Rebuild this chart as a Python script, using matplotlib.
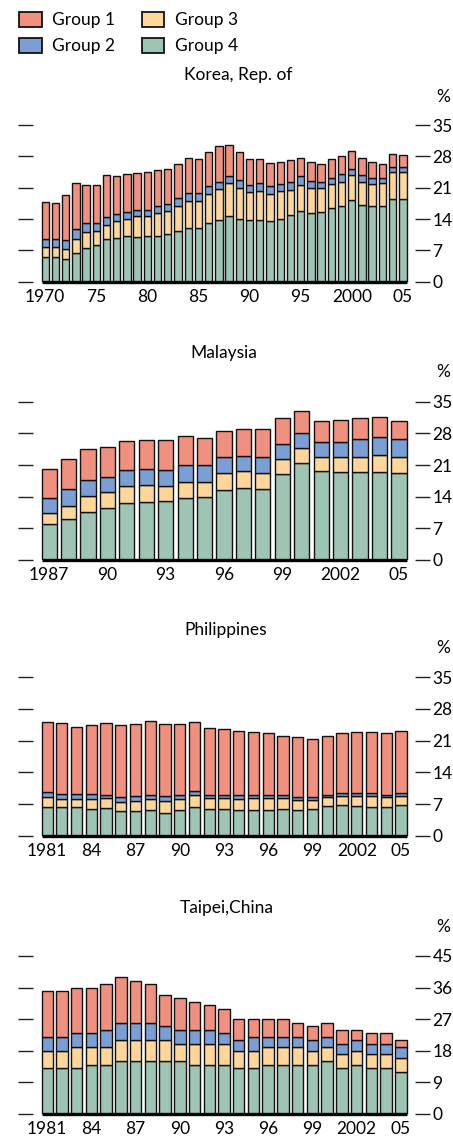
#!/usr/bin/env python3
"""
Stacked bar panels: share of four groups over time for four economies.
"""

import matplotlib
matplotlib.use("Agg")
import matplotlib.pyplot as plt
from matplotlib.patches import Patch

# ---------------------------------------------------------------------------
# Data (values in %)
# ---------------------------------------------------------------------------
group_names = ["Group 1", "Group 2", "Group 3", "Group 4"]

korea_years = list(range(1970, 2006))
korea_g4 = [5.6, 5.6, 5.1, 6.5, 7.6, 8.2, 9.5, 9.8, 10.1, 10.0, 10.1, 10.3,
            10.6, 11.3, 12.1, 12.1, 13.1, 13.8, 14.7, 14.1, 13.7, 13.7, 13.6,
            14.0, 14.9, 15.9, 15.3, 15.6, 16.5, 17.0, 18.2, 17.2, 16.9, 16.9,
            18.5, 18.5]
korea_g3 = [2.1, 2.1, 2.3, 3.0, 3.6, 3.1, 3.2, 3.7, 3.9, 4.7, 4.6, 5.1, 5.3,
            5.7, 6.0, 6.0, 6.4, 6.8, 7.3, 6.9, 6.3, 6.6, 6.1, 6.2, 5.6, 5.8,
            5.7, 5.4, 5.4, 5.3, 5.6, 5.1, 5.0, 5.1, 5.9, 6.0]
korea_g2 = [1.9, 1.9, 2.0, 2.2, 2.0, 1.7, 1.7, 1.7, 1.6, 1.3, 1.3, 1.4, 1.5,
            1.7, 1.8, 1.8, 1.9, 1.7, 1.7, 1.7, 1.7, 1.7, 1.7, 1.7, 1.8, 1.8,
            1.6, 1.3, 1.2, 1.7, 1.4, 1.5, 1.3, 1.2, 1.2, 1.1]
korea_g1 = [8.1, 8.0, 10.0, 10.4, 8.4, 8.6, 9.4, 8.5, 8.4, 8.3, 8.4, 8.2, 7.8,
            7.7, 7.8, 7.4, 7.6, 7.9, 6.9, 6.3, 5.6, 5.4, 5.2, 4.9, 4.9, 4.2,
            4.1, 4.0, 4.2, 4.1, 4.1, 3.8, 3.6, 3.2, 2.9, 2.8]
korea_labels = {1970: "1970", 1975: "75", 1980: "80", 1985: "85", 1990: "90",
                1995: "95", 2000: "2000", 2005: "05"}

malaysia_years = list(range(1987, 2006))
malaysia_g4 = [7.9, 9.1, 10.7, 11.5, 12.7, 12.8, 13.0, 13.8, 13.9, 15.5, 15.9,
               15.7, 19.1, 21.4, 19.6, 19.5, 19.5, 19.5, 19.2]
malaysia_g3 = [2.6, 2.8, 3.4, 3.5, 3.7, 3.7, 3.4, 3.4, 3.3, 3.7, 3.7, 3.5, 3.2,
               3.3, 3.2, 3.2, 3.3, 3.8, 3.5]
malaysia_g2 = [3.1, 3.7, 3.6, 3.4, 3.6, 3.6, 3.5, 3.7, 3.7, 3.6, 3.5, 3.5, 3.3,
               3.4, 3.4, 3.3, 3.9, 4.0, 4.0]
malaysia_g1 = [6.6, 6.7, 6.8, 6.5, 6.4, 6.5, 6.7, 6.5, 6.1, 5.7, 5.9, 6.3, 5.7,
               4.8, 4.5, 4.9, 4.6, 4.3, 4.0]
malaysia_labels = {1987: "1987", 1990: "90", 1993: "93", 1996: "96",
                   1999: "99", 2002: "2002", 2005: "05"}

phil_years = list(range(1981, 2006))
phil_g4 = [6.4, 6.4, 6.3, 6.0, 6.1, 5.5, 5.4, 5.7, 5.1, 5.7, 6.4, 5.9, 5.8,
           5.7, 5.7, 5.7, 6.0, 5.7, 5.9, 6.6, 6.7, 6.6, 6.4, 6.3, 6.8]
phil_g3 = [2.1, 1.7, 1.9, 2.2, 2.2, 2.0, 2.3, 2.4, 2.6, 2.5, 2.5, 2.4, 2.5,
           2.4, 2.6, 2.6, 2.3, 2.2, 1.9, 1.9, 2.1, 2.2, 2.3, 2.2, 2.0]
phil_g2 = [1.2, 1.1, 1.0, 1.0, 0.8, 1.0, 1.0, 1.0, 1.1, 0.9, 1.0, 0.8, 0.8,
           0.8, 0.8, 0.7, 0.8, 0.7, 0.7, 0.6, 0.6, 0.6, 0.7, 0.6, 0.6]
phil_g1 = [15.5, 15.7, 14.8, 15.2, 15.9, 15.9, 16.0, 16.3, 15.9, 15.5, 15.2,
           14.8, 14.4, 14.2, 13.8, 13.6, 13.0, 13.1, 12.9, 12.9, 13.3, 13.5,
           13.6, 13.7, 13.7]
phil_labels = {1981: "1981", 1984: "84", 1987: "87", 1990: "90", 1993: "93",
               1996: "96", 1999: "99", 2002: "2002", 2005: "05"}

taipei_years = list(range(1981, 2006))
taipei_g4 = [13, 13, 13, 14, 14, 15, 15, 15, 15, 15, 14, 14, 14, 13, 13, 14,
             14, 14, 14, 15, 13, 14, 13, 13, 12]
taipei_g3 = [5, 5, 6, 5, 5, 6, 6, 6, 6, 5, 6, 6, 6, 5, 5, 5, 5, 5, 4, 4, 4,
             4, 4, 4, 4]
taipei_g2 = [4, 4, 4, 4, 5, 5, 5, 5, 4, 4, 4, 4, 3, 3, 4, 3, 3, 3, 3, 3, 3,
             3, 3, 3, 3]
taipei_g1 = [13, 13, 13, 13, 13, 13, 12, 11, 9, 9, 8, 7, 7, 6, 5, 5, 5, 4, 4,
             4, 4, 3, 3, 3, 2]
taipei_labels = phil_labels

# ---------------------------------------------------------------------------
# Style
# ---------------------------------------------------------------------------
COLORS = {"Group 1": "#F0907F", "Group 2": "#7B9ED4",
          "Group 3": "#FED69A", "Group 4": "#9EC4B4"}
FIG_W, FIG_H, DPI = 453, 1136, 100
FONT_SIZE = 12.5
AX_LEFT, AX_RIGHT = 33, 415          # pixel extent of every panel
EDGE_PAD = 8.5                       # px between axis edge and first/last bar

plt.rcParams["font.family"] = ["Lato", "DejaVu Sans"]
plt.rcParams["font.size"] = FONT_SIZE


def fx(px):
    return px / FIG_W


def fy(py):
    return 1 - py / FIG_H


def draw_panel(fig, top_px, bottom_px, title, title_x, title_y, pct_y,
               years, g1, g2, g3, g4, labels, ymax, ystep, width):
    ax = fig.add_axes([fx(AX_LEFT), fy(bottom_px),
                       fx(AX_RIGHT) - fx(AX_LEFT), (bottom_px - top_px) / FIG_H])
    n = len(years)
    x = list(range(n))

    # stacked bars, bottom to top: Group 4, 3, 2, 1
    base = [0.0] * n
    for name, vals in (("Group 4", g4), ("Group 3", g3),
                       ("Group 2", g2), ("Group 1", g1)):
        ax.bar(x, vals, width=width, bottom=base, color=COLORS[name],
               edgecolor="#111111", linewidth=1.0, zorder=2)
        base = [b + v for b, v in zip(base, vals)]

    # x range so the bars sit EDGE_PAD px inside the axis
    span = n - 1 + width
    margin = EDGE_PAD * span / (AX_RIGHT - AX_LEFT - 2 * EDGE_PAD)
    ax.set_xlim(-width / 2 - margin, n - 1 + width / 2 + margin)
    ax.set_ylim(0, ymax)

    # thick baseline under the bars
    ax.hlines(0, -width / 2, n - 1 + width / 2, color="black", linewidth=2.4,
              zorder=3, clip_on=False)

    for side in ("top", "bottom", "left", "right"):
        ax.spines[side].set_visible(False)

    ax.set_yticks(range(0, ymax + 1, ystep))
    ax.yaxis.set_ticks_position("both")
    ax.tick_params(axis="y", which="both", direction="out", length=11,
                   width=1.0, color="#222222", labelleft=False,
                   labelright=True, pad=1.5, labelsize=FONT_SIZE)

    ax.set_xticks([years.index(y) for y in labels])
    ax.set_xticklabels(list(labels.values()))
    ax.tick_params(axis="x", length=0, pad=5, labelsize=FONT_SIZE)

    fig.text(fx(title_x), fy(title_y), title, ha="center", va="center",
             fontsize=FONT_SIZE)
    fig.text(fx(443), fy(pct_y), "%", ha="center", va="center",
             fontsize=FONT_SIZE)
    return ax


def main():
    fig = plt.figure(figsize=(FIG_W / DPI, FIG_H / DPI), dpi=DPI)

    # Legend at the top
    handles = [Patch(facecolor=COLORS[g], edgecolor="#111111", linewidth=1.3)
               for g in group_names]
    fig.legend(handles, group_names, loc="upper left",
               bbox_to_anchor=(fx(19), fy(12)), ncol=2, frameon=False,
               handlelength=1.3, handleheight=0.95, handletextpad=0.6,
               columnspacing=1.55, labelspacing=0.55, borderpad=0,
               borderaxespad=0, fontsize=FONT_SIZE)

    draw_panel(fig, 125, 281.7, "Korea, Rep. of", 238, 75, 97,
               korea_years, korea_g1, korea_g2, korea_g3, korea_g4,
               korea_labels, 35, 7, 0.72)
    draw_panel(fig, 401.7, 560, "Malaysia", 224, 352.7, 371.7,
               malaysia_years, malaysia_g1, malaysia_g2, malaysia_g3,
               malaysia_g4, malaysia_labels, 35, 7, 0.78)
    draw_panel(fig, 677.3, 835.7, "Philippines", 226, 630, 648,
               phil_years, phil_g1, phil_g2, phil_g3, phil_g4,
               phil_labels, 35, 7, 0.75)
    draw_panel(fig, 956, 1114, "Taipei,China", 227, 907.7, 926.7,
               taipei_years, taipei_g1, taipei_g2, taipei_g3, taipei_g4,
               taipei_labels, 45, 9, 0.78)

    fig.savefig("out.png", dpi=DPI)


if __name__ == "__main__":
    main()
